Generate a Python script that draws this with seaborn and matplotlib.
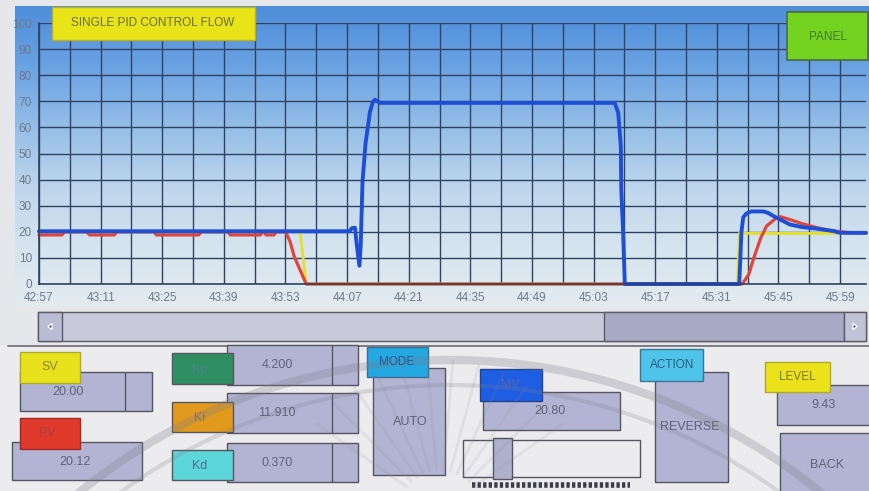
import numpy as np
import seaborn as sns
import matplotlib.pyplot as plt
from matplotlib.patches import Rectangle, Arc, Polygon
from matplotlib.colors import LinearSegmentedColormap

W, H = 869, 491

# time axis: seconds after 42:57
tick_sec = list(range(0, 183, 14))
tick_labels = ['42:57', '43:11', '43:25', '43:39', '43:53', '44:07', '44:21',
               '44:35', '44:49', '45:03', '45:17', '45:31', '45:45', '45:59']
y_ticks = list(range(0, 101, 10))

# SV (set value) - yellow
sv_t = [0, 59.3, 60.7, 158.7, 159.1, 187.9]
sv_v = [20, 20, 0, 0, 19.4, 19.4]

# PV (process value) - red
pv_t = [0, 5.2, 5.8, 10.9, 11.5, 17.1, 17.7, 26.1, 26.7, 36.3, 36.9, 42.9, 43.5,
        50.3, 50.8, 51.1, 51.6, 53.4, 53.9, 56.0, 57.0, 58.0, 60.7, 159.8,
        161.3, 162.4, 164.0, 165.3, 167.6, 168.4, 170.6, 173.4, 177.0, 180.5,
        184.2, 187.9]
pv_v = [18.8, 18.8, 20, 20, 18.8, 18.8, 20, 20, 18.8, 18.8, 20, 20, 18.8,
        18.8, 20, 20, 18.8, 18.8, 20, 20, 16.5, 10.5, 0, 0,
        3.8, 10, 17.7, 22.2, 25.4, 25.8, 24.7, 23.1, 21.5, 20.3,
        19.7, 19.6]

# MV (manipulated value) - blue
mv_t = [0, 70.5, 71.2, 71.8, 72.2, 72.8, 73.1, 73.5, 74.2, 75.2, 75.8, 76.3,
        77.5, 130.8, 131.6, 132.2, 132.3, 132.7, 133.1, 159.1, 159.6, 160.0,
        160.7, 161.8, 164.6, 165.7, 166.9, 169.1, 170.6, 173.4, 176.2, 180.5,
        182.0, 187.9]
mv_v = [20.2, 20.2, 21.5, 21.5, 15, 7, 15, 39, 54, 66, 69.5, 70.6,
        69.4, 69.4, 65.6, 52.7, 36, 20.5, 0, 0, 20, 25.5,
        27, 27.8, 27.8, 27.2, 26, 24.1, 22.8, 21.8, 21.3, 20.3,
        19.6, 19.6]

# panel values
sv_value = '20.00'
pv_value = '20.12'
kp_value = '4.200'
ki_value = '11.910'
kd_value = '0.370'
mv_value = '20.80'
level_value = '9.43'
mode_text = 'AUTO'
action_text = 'REVERSE'

sns.set_style('white')
plt.rcParams['font.family'] = ['Liberation Sans', 'DejaVu Sans']

fig = plt.figure(figsize=(W / 100, H / 100), dpi=100)
fig.patch.set_facecolor('#e6e7eb')


def px_axes(x0, y0, x1, y1, z):
    a = fig.add_axes([x0 / W, 1 - y1 / H, (x1 - x0) / W, (y1 - y0) / H])
    a.set_zorder(z)
    return a


# background layer (pixel coordinates)
bg = px_axes(0, 0, W, H, 0)
bg.set_xlim(0, W)
bg.set_ylim(H, 0)
bg.axis('off')
bg.add_patch(Rectangle((0, 346), W, H - 346, fc='#ececef', ec='none'))
grad = LinearSegmentedColormap.from_list('g', ['#4f8edb', '#6aa2e2', '#94bee8',
                                               '#bdd5ec', '#d5e4ef', '#e3ebf1'])
bg.imshow(np.linspace(0, 1, 200).reshape(-1, 1), cmap=grad, aspect='auto',
          extent=(15, W, 306, 6), origin='upper')
bg.plot([8, W], [346, 346], color='#6a6a70', lw=1.2)

# trend chart
ax = px_axes(39, 23, 866, 284, 2)
ax.patch.set_alpha(0)
sns.lineplot(x=sv_t, y=sv_v, ax=ax, color='#e6df2a', linewidth=2.0,
             estimator=None, sort=False)
sns.lineplot(x=pv_t, y=pv_v, ax=ax, color='#e0453a', linewidth=2.3,
             estimator=None, sort=False)
sns.lineplot(x=mv_t, y=mv_v, ax=ax, color='#1f4ed6', linewidth=2.8,
             estimator=None, sort=False)
for ln in ax.lines:
    ln.set_clip_on(False)
    ln.set_solid_capstyle('round')
    ln.set_solid_joinstyle('round')

ax.set_xlim(0, 187.9)
ax.set_ylim(0, 100)
ax.set_xticks(tick_sec)
ax.set_xticklabels(tick_labels)
ax.set_xticks(np.arange(7, 188, 14), minor=True)
ax.set_yticks(y_ticks)
ax.set_yticklabels([str(v) for v in y_ticks])
ax.grid(True, which='both', color='#2f4360', lw=1.0)
ax.set_axisbelow(True)
ax.tick_params(axis='both', which='both', length=3, color='#2f4360',
               labelsize=8.5, labelcolor='#6f7a8c', pad=2)
ax.tick_params(axis='x', which='major', length=0, pad=6)
ax.tick_params(axis='x', which='minor', length=0)
for s in ['top', 'right']:
    ax.spines[s].set_visible(False)
for s in ['left', 'bottom']:
    ax.spines[s].set_color('#2f4360')
    ax.spines[s].set_linewidth(1.2)
ax.set_xlabel('')
ax.set_ylabel('')

# foreground widgets
fg = px_axes(0, 0, W, H, 3)
fg.set_xlim(0, W)
fg.set_ylim(H, 0)
fg.axis('off')
fg.patch.set_alpha(0)


def box(x0, y0, x1, y1, fc, ec='#55555f', lw=1.0):
    fg.add_patch(Rectangle((x0, y0), x1 - x0, y1 - y0, fc=fc, ec=ec, lw=lw))


def txt(x, y, s, c='#5c6479', size=9):
    fg.text(x, y, s, ha='center', va='center', color=c, fontsize=size, zorder=12)


lav = '#b3b4d3'

# title + panel button
box(52, 7, 255, 40, '#e9e31a', ec='#b9b028')
txt(153, 23, 'SINGLE PID CONTROL FLOW', c='#6c6a2c', size=8.5)
box(787, 12, 868, 60, '#74d31f', ec='#4b6b38', lw=1.2)
txt(828, 37, 'PANEL', c='#3f7a2e', size=8.5)

# scroll bar
box(38, 312, 866, 341, '#c8cadc', ec='#5a5a66')
box(38, 312, 62, 341, '#babcd3', ec='#5a5a66')
box(604, 312, 844, 341, '#a8aac5', ec='#5a5a66')
box(844, 312, 866, 341, '#c0c2d6', ec='#5a5a66')
fg.add_patch(Polygon([[48, 326.5], [52, 323.5], [52, 329.5]], fc='#333'))
fg.add_patch(Polygon([[857, 326.5], [853, 323.5], [853, 329.5]], fc='#333'))

# SV / PV
box(20, 372, 152, 411, lav)
fg.plot([125, 125], [372, 411], color='#55555f', lw=1)
txt(68, 392, sv_value)
box(20, 352, 80, 383, '#e8e21c', ec='#b0a82a')
txt(50, 367, 'SV', c='#8c8636')
box(12, 442, 142, 480, lav)
txt(75, 462, pv_value)
box(20, 418, 80, 449, '#e03a2c', ec='#a02a22')
txt(47, 433, 'PV', c='#a8403a')

# Kp / Ki / Kd
for (y0, y1, ly0, ly1, col, lab, lc, val) in [
        (345, 385, 353, 384, '#2f8e62', 'Kp', '#4d8396', kp_value),
        (393, 433, 402, 432, '#e29a1c', 'Ki', '#8d7266', ki_value),
        (443, 482, 450, 480, '#5cd6d8', 'Kd', '#4f6d94', kd_value)]:
    box(227, y0, 358, y1, lav)
    fg.plot([332, 332], [y0, y1], color='#55555f', lw=1)
    txt(277, (y0 + y1) / 2, val)
    box(172, ly0, 233, ly1, col, ec='#55555f')
    txt(200, (ly0 + ly1) / 2 + 1, lab, c=lc)

# MODE
box(373, 368, 445, 475, lav)
txt(410, 422, mode_text)
box(367, 347, 428, 377, '#23a8e2', ec='#3d6f94')
txt(397, 362, 'MODE', c='#2a5a8c', size=8.5)

# MV + slider
box(483, 392, 620, 430, lav)
txt(550, 411, mv_value)
box(480, 369, 542, 401, '#1d5ee2', ec='#25438a')
txt(510, 385, 'MV', c='#5a66a6')
box(463, 440, 640, 477, '#ececf0', ec='#55555f')
fg.add_patch(Rectangle((493, 438), 19, 41, fc='#aeb0cc', ec='#55555f', lw=1.0))
fg.plot([472, 630], [485, 485], color='#3c3c44', lw=4, dashes=(0.6, 0.4))

# ACTION
box(655, 372, 728, 482, lav)
txt(690, 427, action_text)
box(640, 349, 703, 381, '#4fc4ea', ec='#3d7494')
txt(672, 365, 'ACTION', c='#2c5a7c', size=8.5)

# LEVEL + BACK
box(777, 385, 875, 425, lav)
txt(823, 405, level_value)
box(765, 362, 830, 392, '#ece21c', ec='#b0a82a')
txt(797, 377, 'LEVEL', c='#7a7636', size=8.5)
box(780, 433, 875, 495, lav)
txt(827, 465, 'BACK')

# glass reflection over the lower panel (y axis is inverted, so angles flip)
fg.add_patch(Arc((450, 945), 1170, 1170, theta1=215, theta2=325,
                 color='#7c7c88', lw=6, alpha=0.28, zorder=10))
fg.add_patch(Arc((450, 945), 1120, 1120, theta1=220, theta2=320,
                 color='#7c7c88', lw=3, alpha=0.22, zorder=10))
for ang in np.linspace(35, 145, 12):
    a = np.radians(ang)
    fg.plot([440 + 40 * np.cos(a), 440 + 150 * np.cos(a)],
            [510 - 40 * np.sin(a), 510 - 150 * np.sin(a)],
            color='#8a8a94', lw=2, alpha=0.13, zorder=10)

fig.savefig('out.png', dpi=100)
